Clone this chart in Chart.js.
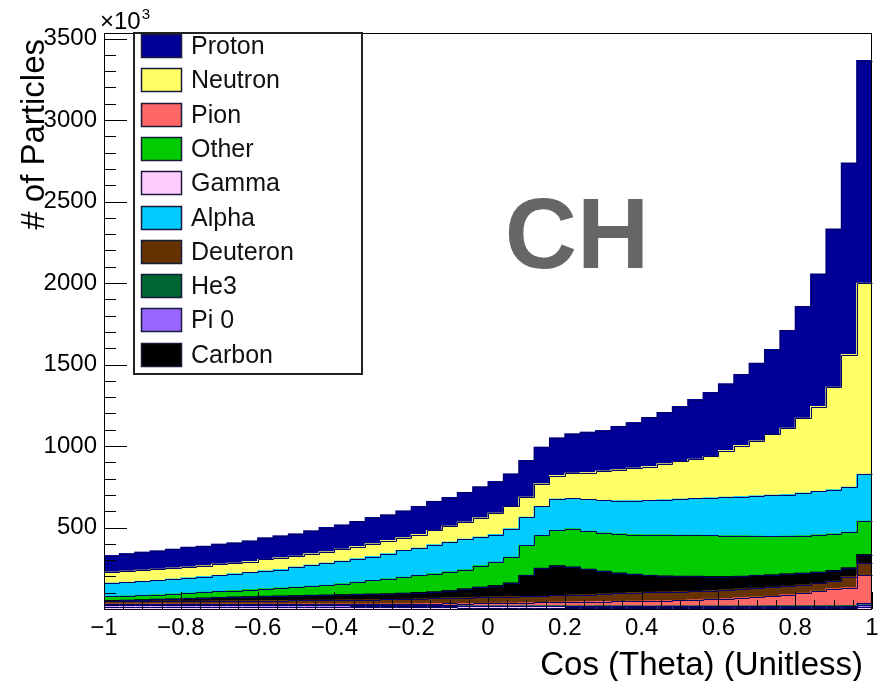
<!DOCTYPE html>
<html>
<head>
<meta charset="utf-8">
<script src="https://cdn.jsdelivr.net/npm/chart.js@4.4.1/dist/chart.umd.min.js"></script>
<style>
  html, body { margin: 0; padding: 0; background: #ffffff; }
  #wrap { width: 878px; height: 681px; }
</style>
</head>
<body>
<div id="wrap"><canvas id="c" width="878" height="681"></canvas></div>
<script>
// Cos(theta) histogram: 50 bins from -1 to 1, counts in units of 10^3
const NBINS = 50;
const binCenters = Array.from({ length: NBINS }, (_, i) => -1 + 0.04 * (i + 0.5));

const proton   = [102,108,111,113,116,122,120,123,125,127,133,135,137,141,149,149,154,161,158,165,172,178,176,182,191,194,200,225,225,231,242,248,249,266,280,301,315,337,366,392,410,436,478,521,600,685,814,971,1176,1366];
const neutron  = [67,69,69,69,68,66,66,69,65,67,70,72,67,70,70,74,75,78,81,78,84,88,98,105,118,131,137,123,139,145,155,165,180,190,200,208,221,231,241,254,286,313,336,373,407,460,521,630,814,1173];
const alpha    = [82,83,86,88,91,94,96,98,103,105,110,113,123,130,136,138,143,147,154,164,167,178,182,188,175,170,174,173,178,192,186,195,199,203,207,211,215,221,225,231,237,241,247,253,255,262,266,270,276,287];
const other    = [25,26,26,27,30,32,35,37,39,43,46,49,52,55,59,67,75,83,91,98,105,110,115,116,132,143,158,184,201,216,234,233,235,240,244,249,252,252,252,252,250,248,241,235,231,229,229,225,218,205];
const carbon   = [5,7,9,11,13,17,19,21,23,25,26,28,29,30,32,32,34,35,35,37,38,40,44,54,61,69,84,129,172,183,171,156,139,124,112,103,98,94,92,86,81,77,78,76,76,72,68,65,54,53];
const deuteron = [17,17,18,18,19,19,20,20,21,21,22,22,23,23,24,25,26,27,28,29,31,33,35,37,39,40,40,39,38,41,43,43,47,50,53,53,54,54,53,53,56,55,55,57,53,51,49,47,69,75];
const pion     = [2,2,2,3,3,3,3,4,4,4,5,5,5,6,6,7,7,8,9,9,10,11,12,13,14,15,17,18,20,22,25,26,26,28,29,32,32,34,37,41,43,50,54,57,67,77,89,104,109,172];
const he3      = [1,1,1,1,1,1,1,1,1,1,2,2,2,2,2,2,2,2,2,2,3,3,3,3,3,3,3,4,4,4,4,4,5,5,5,5,6,6,6,6,6,6,6,7,7,7,7,7,7,10];
const pi0      = [14,14,14,14,14,13,13,13,13,13,12,12,12,12,11,11,11,10,10,10,9,9,9,8,8,8,7,7,7,7,6,6,6,6,6,5,5,5,5,5,5,5,5,5,5,5,5,5,6,14];
const gamma    = [13,13,13,13,12,12,12,12,12,12,11,11,11,11,11,11,10,10,10,10,10,10,10,9,9,9,9,9,9,9,9,9,9,8,8,8,8,8,8,8,8,8,8,8,8,8,8,8,8,10];

// axis tick values
const xTickValues = [-1, -0.8, -0.6, -0.4, -0.2, 0, 0.2, 0.4, 0.6, 0.8, 1];
const yTickValues = [500, 1000, 1500, 2000, 2500, 3000, 3500];

const legendOrder = ['Proton', 'Neutron', 'Pion', 'Other', 'Gamma', 'Alpha', 'Deuteron', 'He3', 'Pi 0', 'Carbon'];

const FONT = "'Liberation Sans', Arial, Helvetica, sans-serif";
const OUTLINE = '#000066';

// stacked from the bottom up
const layers = [
  { label: 'Gamma',    data: gamma,    color: '#ffccff' },
  { label: 'Pi 0',     data: pi0,      color: '#9966ff' },
  { label: 'He3',      data: he3,      color: '#006633' },
  { label: 'Pion',     data: pion,     color: '#ff6666' },
  { label: 'Deuteron', data: deuteron, color: '#663300' },
  { label: 'Carbon',   data: carbon,   color: '#000000' },
  { label: 'Other',    data: other,    color: '#00cc00' },
  { label: 'Alpha',    data: alpha,    color: '#00ccff' },
  { label: 'Neutron',  data: neutron,  color: '#ffff66' },
  { label: 'Proton',   data: proton,   color: '#000099' }
];

const crisp = v => Math.round(v) + 0.5;

// ROOT-style decorations: step outlines, inner ticks, frame, legend, labels
const rootStyle = {
  id: 'rootStyle',
  afterDatasetsDraw(chart) {
    const ctx = chart.ctx;
    const area = chart.chartArea;
    const xs = chart.scales.x, ys = chart.scales.y;
    ctx.save();

    // histogram step outlines
    ctx.lineWidth = 1;
    ctx.strokeStyle = OUTLINE;
    chart.data.datasets.forEach((ds, di) => {
      const meta = chart.getDatasetMeta(di);
      ctx.beginPath();
      meta.data.forEach((bar, i) => {
        const p = bar.getProps(['x', 'y', 'width'], true);
        const l = crisp(p.x - p.width / 2), r = crisp(p.x + p.width / 2), y = crisp(p.y);
        if (i === 0) ctx.moveTo(l, y); else ctx.lineTo(l, y);
        ctx.lineTo(r, y);
      });
      ctx.stroke();
    });

    // inner tick marks
    ctx.strokeStyle = '#000';
    ctx.beginPath();
    for (let k = 0; k <= 40; k++) {
      const v = -1 + k * 0.05;
      const px = crisp(xs.getPixelForValue(v));
      const len = (k % 4 === 0) ? 17 : 9;
      ctx.moveTo(px, area.bottom);
      ctx.lineTo(px, area.bottom - len);
    }
    for (let k = 0; k <= 35; k++) {
      const py = crisp(ys.getPixelForValue(k * 100));
      const len = (k % 5 === 0) ? 23 : 12;
      ctx.moveTo(area.left, py);
      ctx.lineTo(area.left + len, py);
    }
    ctx.stroke();

    // frame
    ctx.strokeRect(crisp(area.left), crisp(area.top), Math.round(area.right - area.left) - 1, Math.round(area.bottom - area.top));
    ctx.restore();
  },
  afterDraw(chart) {
    const ctx = chart.ctx;
    const area = chart.chartArea;
    ctx.save();

    // legend
    const lx = 133, ly = 32, lw = 230, lh = 343;
    ctx.fillStyle = '#ffffff';
    ctx.fillRect(lx, ly, lw, lh);
    ctx.lineWidth = 2;
    ctx.strokeStyle = '#222222';
    ctx.strokeRect(lx + 1, ly + 1, lw - 2, lh - 2);
    ctx.font = `25px ${FONT}`;
    ctx.textBaseline = 'middle';
    ctx.textAlign = 'left';
    legendOrder.forEach((name, k) => {
      const ds = chart.data.datasets.find(d => d.label === name);
      const cy = Math.round(46 + k * 34.3);
      ctx.fillStyle = ds.backgroundColor;
      ctx.fillRect(141, cy - 12, 41, 24);
      ctx.lineWidth = 1.5;
      ctx.strokeStyle = '#1a1a3a';
      ctx.strokeRect(141.5, cy - 11.5, 40, 23);
      ctx.fillStyle = '#111111';
      ctx.fillText(name, 191, cy + 1);
    });

    // exponent of the y axis
    ctx.fillStyle = '#000';
    ctx.textBaseline = 'alphabetic';
    ctx.font = `24px ${FONT}`;
    ctx.fillText('\u00d710', 100, 29);
    const w = ctx.measureText('\u00d710').width;
    ctx.font = `15px ${FONT}`;
    ctx.fillText('3', 100 + w + 1, 19);

    // axis titles
    ctx.font = `33px ${FONT}`;
    ctx.textAlign = 'right';
    ctx.fillText('Cos (Theta) (Unitless)', area.right - 9, 675);
    ctx.save();
    ctx.translate(44, 39);
    ctx.rotate(-Math.PI / 2);
    ctx.fillText('# of Particles', 0, 0);
    ctx.restore();

    // target label
    ctx.font = `bold 100px ${FONT}`;
    ctx.textAlign = 'center';
    ctx.fillStyle = '#666666';
    ctx.fillText('CH', 577, 268);
    ctx.restore();
  }
};

new Chart(document.getElementById('c'), {
  type: 'bar',
  data: {
    labels: binCenters,
    datasets: layers.map(l => ({
      label: l.label,
      data: l.data,
      backgroundColor: l.color,
      borderWidth: 0,
      inflateAmount: 0.5,
      barPercentage: 1,
      categoryPercentage: 1
    }))
  },
  options: {
    responsive: false,
    animation: false,
    events: [],
    layout: { padding: { left: 0, right: 6, top: 33, bottom: 0 } },
    plugins: { legend: { display: false }, tooltip: { enabled: false } },
    scales: {
      x: {
        type: 'linear',
        stacked: true,
        offset: false,
        min: -1,
        max: 1,
        grid: { display: false, drawTicks: false },
        border: { display: false },
        afterBuildTicks: s => { s.ticks = xTickValues.map(v => ({ value: v })); },
        afterFit: s => { s.height = 72; s.paddingLeft = 0; s.paddingRight = 0; },
        ticks: {
          autoSkip: false,
          maxRotation: 0,
          padding: 5,
          color: '#000',
          font: { family: FONT, size: 24 },
          callback: v => {
            const r = Math.round(v * 10) / 10;
            return r === 0 ? '0' : (r < 0 ? '\u2212' : '') + String(Math.abs(r));
          }
        }
      },
      y: {
        type: 'linear',
        stacked: true,
        min: 0,
        max: 3534,
        grid: { display: false, drawTicks: false },
        border: { display: false },
        afterBuildTicks: s => { s.ticks = yTickValues.map(v => ({ value: v })); },
        afterFit: s => { s.width = 104; s.paddingTop = 0; s.paddingBottom = 0; },
        ticks: {
          autoSkip: false,
          padding: 7,
          color: '#000',
          font: { family: FONT, size: 24 },
          callback: v => String(v)
        }
      }
    }
  },
  plugins: [rootStyle]
});
</script>
</body>
</html>
